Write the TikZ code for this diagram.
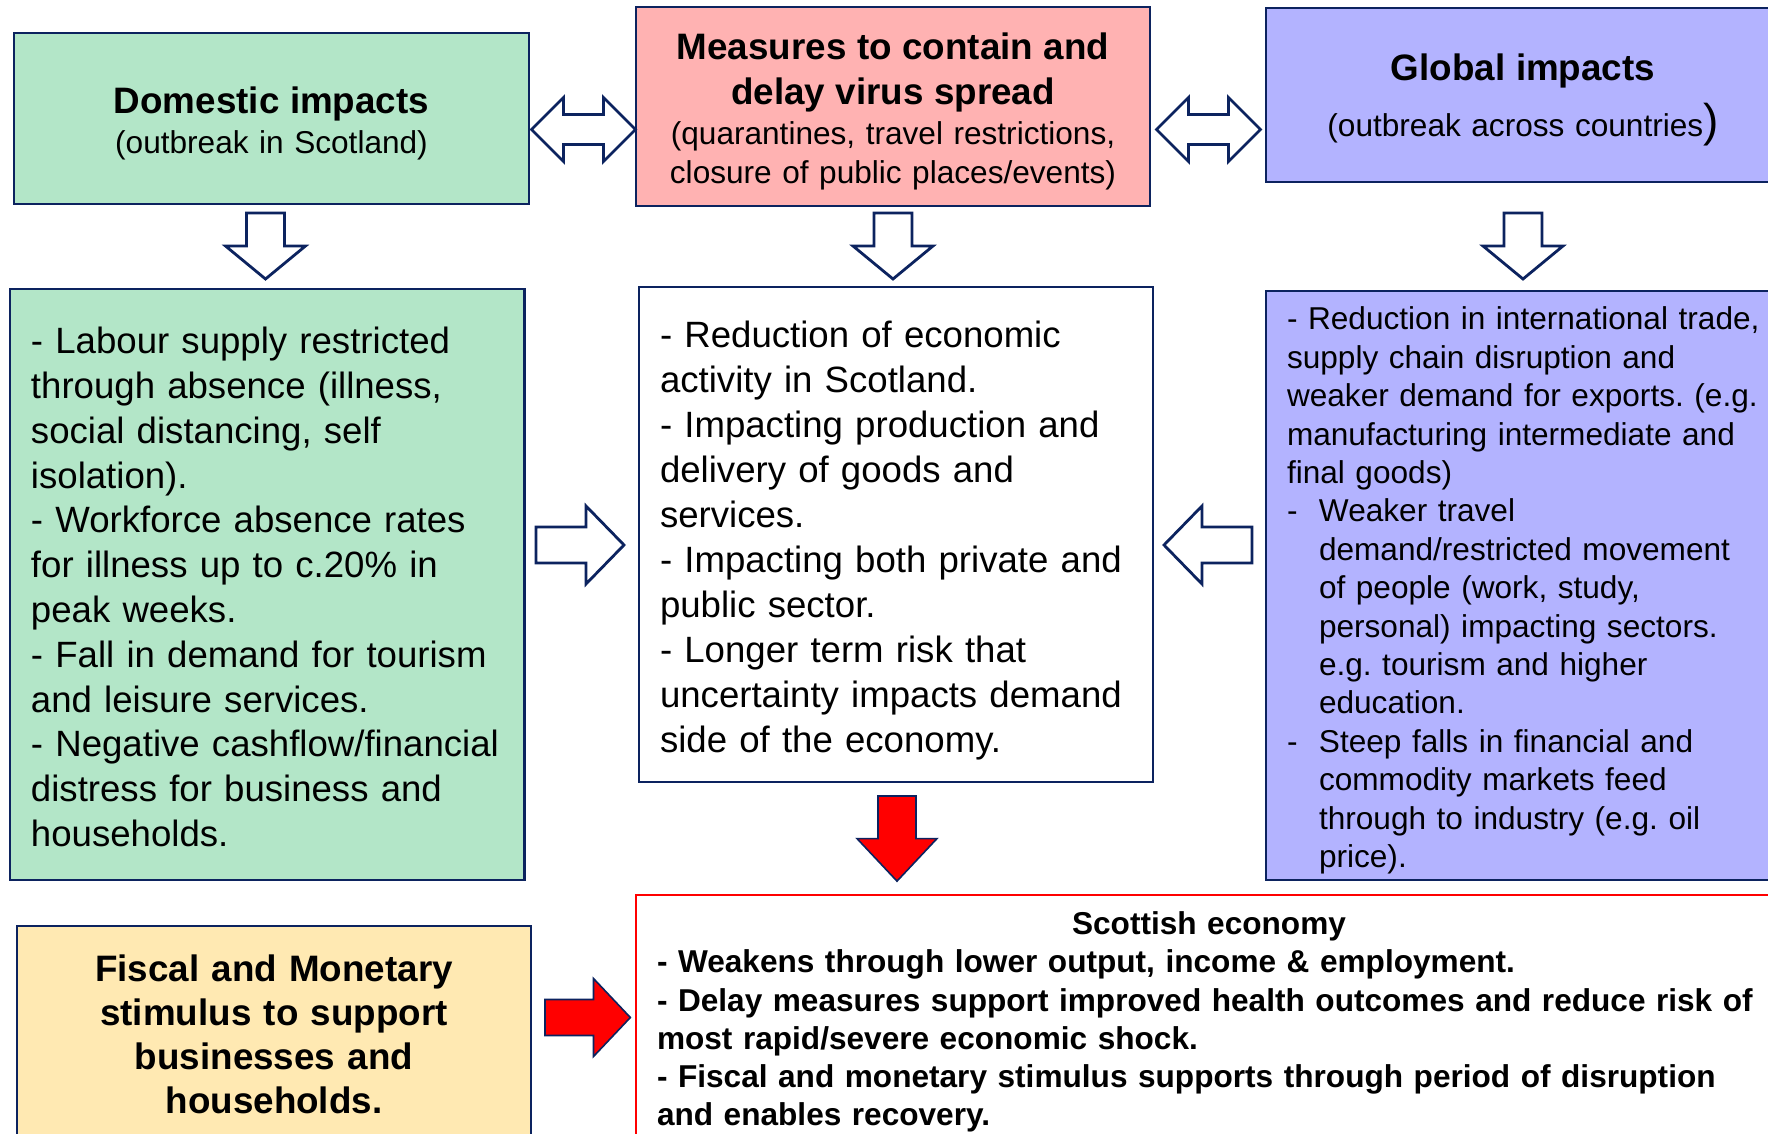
\documentclass[tikz,border=0pt]{standalone}
\usepackage{fontspec}
\setmainfont{Liberation Sans}
\usetikzlibrary{calc}
\frenchspacing
\hyphenpenalty=10000

\definecolor{navy}{RGB}{12,35,95}
\definecolor{mint}{RGB}{179,230,200}
\definecolor{rose}{RGB}{255,178,178}
\definecolor{lilac}{RGB}{179,179,255}
\definecolor{sand}{RGB}{255,233,178}

\tikzset{
  panel/.style={draw=navy, line width=1.4pt, anchor=north west, inner sep=0pt, outer sep=0pt},
  listpanel/.style={panel, align=left, inner xsep=10.5pt},
  blkarr/.style={draw=navy, line width=1.4pt, fill=white},
  redarr/.style={draw=navy, line width=0.8pt, fill=red},
  pics/arrdown/.style={code={
    \path[pic actions] (-19,0) -- (-19,-33) -- (-40,-33) -- (0,-66) -- (40,-33) -- (19,-33) -- (19,0) -- cycle;
  }},
  pics/arrright/.style={code={
    \path[pic actions] (0,18) -- (50,18) -- (50,39) -- (88,0) -- (50,-39) -- (50,-18) -- (0,-18) -- cycle;
  }},
  pics/arrboth/.style={code={
    \path[pic actions] (-52,0) -- (-20,32) -- (-20,15) -- (20,15) -- (20,32) -- (52,0)
      -- (20,-32) -- (20,-15) -- (-20,-15) -- (-20,-32) -- cycle;
  }}
}

\begin{document}
\begin{tikzpicture}[x=0.5pt,y=0.5pt]
\clip[use as bounding box] (0,0) rectangle (1768,-1134);

% top row
\node[panel, fill=mint, minimum width=257.5pt, minimum height=85.5pt, text width=236pt, align=center,
  text height=18.3pt, font=\fontsize{15.8}{20}\selectfont] (domhead) at (14,-33)
  {{\bfseries\fontsize{18.4}{20}\selectfont Domestic impacts}\\ (outbreak in Scotland)};
\node[panel, fill=rose, minimum width=257pt, minimum height=99.5pt, text width=250pt, align=center,
  text height=18.5pt, font=\fontsize{15.8}{20.8}\selectfont] (meas) at (636,-7)
  {{\bfseries\fontsize{18.4}{20.8}\selectfont Measures to contain and\\[1.7pt] delay virus spread}\\[-1.1pt]
   (quarantines, travel restrictions,\\[-1.1pt] closure of public places/events)};
\node[panel, fill=lilac, minimum width=257pt, minimum height=87pt, text width=236pt, align=center,
  text height=18.7pt, font=\fontsize{15.8}{20}\selectfont] (globhead) at (1266,-8)
  {{\bfseries\fontsize{18.4}{20}\selectfont Global impacts}\\[6.5pt]
   (outbreak across countries{\fontsize{23}{23}\selectfont)}};

% middle row
\node[listpanel, fill=mint, minimum width=257.25pt, minimum height=295.5pt, text width=236.25pt,
  text height=15.8pt, font=\fontsize{18.3}{22.4}\selectfont] (domtext) at (10,-289)
  {- Labour supply restricted\\ through absence (illness,\\ social distancing, self\\ isolation).\\
   - Workforce absence rates\\ for illness up to c.20\% in\\ peak weeks.\\
   - Fall in demand for tourism\\ and leisure services.\\
   - Negative cashflow/financial\\ distress for business and\\ households.};
\node[listpanel, fill=white, minimum width=257pt, minimum height=247.5pt, text width=236pt,
  text height=19.1pt, font=\fontsize{18.3}{22.5}\selectfont] (midtext) at (639,-287)
  {- Reduction of economic\\ activity in Scotland.\\
   - Impacting production and\\ delivery of goods and\\ services.\\
   - Impacting both private and\\ public sector.\\
   - Longer term risk that\\ uncertainty impacts demand\\ side of the economy.};
\node[listpanel, fill=lilac, minimum width=257pt, minimum height=294.5pt, text width=240pt,
  text height=16.5pt, font=\fontsize{15.8}{19.2}\selectfont] (globtext) at (1266,-291)
  {- Reduction in international trade,\\ supply chain disruption and\\
   weaker demand for exports. (e.g.\\ manufacturing intermediate and\\ final goods)\\
   \makebox[16pt][l]{-}Weaker travel\\ \hspace*{16pt}demand/restricted movement\\
   \hspace*{16pt}of people (work, study,\\ \hspace*{16pt}personal) impacting sectors.\\
   \hspace*{16pt}e.g. tourism and higher\\ \hspace*{16pt}education.\\
   \makebox[16pt][l]{-}Steep falls in financial and\\ \hspace*{16pt}commodity markets feed\\
   \hspace*{16pt}through to industry (e.g. oil\\ \hspace*{16pt}price).};

% bottom row
\node[panel, fill=sand, minimum width=257pt, minimum height=108.5pt, text width=236pt, align=center,
  font=\bfseries\fontsize{18.4}{22}\selectfont] (fiscal) at (17,-926)
  {Fiscal and Monetary\\ stimulus to support\\ businesses and\\ households.};
\node[listpanel, draw=red, line width=1.2pt, fill=white, minimum width=572pt, minimum height=123.5pt,
  text width=562pt, text height=14.9pt, font=\bfseries\fontsize{15.8}{19.1}\selectfont] (scot) at (636,-895)
  {\makebox[552pt][c]{Scottish economy}\\
   - Weakens through lower output, income \& employment.\\
   - Delay measures support improved health outcomes and reduce risk of\\
   most rapid/severe economic shock.\\
   - Fiscal and monetary stimulus supports through period of disruption\\
   and enables recovery.};

% block arrows between the panels
\pic[blkarr] at ($(domhead.east)+(54.5,-11)$) {arrboth};
\pic[blkarr] at ($(globhead.west)+(-57.5,-34.5)$) {arrboth};
\pic[blkarr] at ($(domhead.south)+(-6,-9)$) {arrdown};
\pic[blkarr] at ($(meas.south)+(0,-7)$) {arrdown};
\pic[blkarr] at ($(globhead.south)+(0,-31)$) {arrdown};
\pic[blkarr] at ($(domtext.east)+(11.5,39.5)$) {arrright};
\pic[blkarr, rotate=180] at ($(globtext.west)+(-14,40.5)$) {arrright};
\pic[redarr, yscale=1.29] at ($(midtext.south)+(1,-14)$) {arrdown};
\pic[redarr, xscale=0.97] at ($(fiscal.east)+(14,17)$) {arrright};
\end{tikzpicture}
\end{document}
